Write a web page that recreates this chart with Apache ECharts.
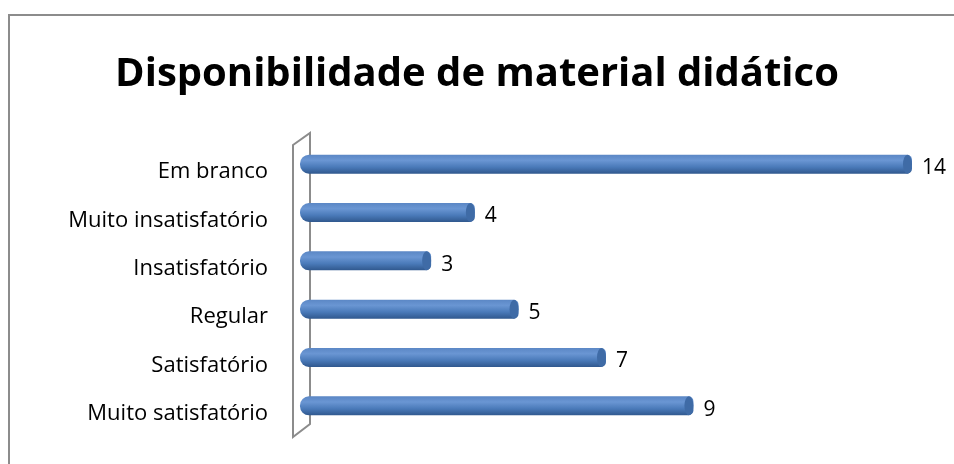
<!DOCTYPE html>
<html>
<head>
<meta charset="utf-8">
<script src="https://cdn.jsdelivr.net/npm/echarts@6/dist/echarts.min.js"></script>
<style>
  html, body { margin: 0; padding: 0; background: #fff; }
  #chart { width: 954px; height: 464px; }
</style>
</head>
<body>
<div id="chart"></div>
<script>
// categories bottom to top, as Excel draws them
const categories = ['Muito satisfatório', 'Satisfatório', 'Regular', 'Insatisfatório', 'Muito insatisfatório', 'Em branco']
const counts = [9, 7, 5, 3, 4, 14]
const titleText = 'Disponibilidade de material didático'

const chart = echarts.init(document.getElementById('chart'))

const cylinder = new echarts.graphic.LinearGradient(0, 0, 0, 1, [
  { offset: 0, color: '#5b87c5' },
  { offset: 0.3, color: '#6a96d3' },
  { offset: 0.65, color: '#4a7ab9' },
  { offset: 1, color: '#30588e' }
])

const option = {
  animation: false,
  backgroundColor: '#fff',
  title: {
    text: titleText,
    left: 'center',
    top: 50,
    textStyle: {
      fontFamily: 'Open Sans',
      fontWeight: 'bold',
      fontSize: 40,
      color: '#000'
    }
  },
  grid: {
    left: 300,
    right: 42,
    top: 140,
    bottom: 34
  },
  xAxis: {
    type: 'value',
    min: 0,
    max: 14,
    show: false
  },
  yAxis: {
    type: 'category',
    data: categories,
    axisLine: { show: false },
    axisTick: { show: false },
    axisLabel: {
      margin: 32,
      verticalAlign: 'top',
      lineHeight: 16,
      fontFamily: 'Open Sans',
      fontSize: 22,
      color: '#000'
    }
  },
  series: [
    {
      // cylinder body
      type: 'bar',
      data: counts,
      barWidth: 19,
      itemStyle: {
        color: cylinder,
        borderRadius: [9, 5, 5, 9]
      },
      label: {
        show: true,
        position: 'right',
        distance: 10,
        verticalAlign: 'top',
        lineHeight: 8,
        fontFamily: 'Open Sans',
        fontSize: 21,
        color: '#000'
      },
      z: 2
    },
    {
      // darker elliptical end cap
      type: 'pictorialBar',
      data: counts,
      symbol: 'circle',
      symbolSize: [9, 19],
      symbolPosition: 'end',
      symbolOffset: [0, 0],
      itemStyle: { color: '#3f6ba6' },
      z: 3
    }
  ],
  graphic: [
    {
      // chart area border (right and bottom fall outside the picture)
      type: 'rect',
      shape: { x: 9, y: 15, width: 1000, height: 500 },
      style: { fill: 'none', stroke: '#8c8c8c', lineWidth: 2 },
      silent: true
    },
    {
      // 3D side wall of the category axis
      type: 'polygon',
      shape: { points: [[293, 145], [310, 133], [310, 424], [293, 437]] },
      style: { fill: 'none', stroke: '#8c8c8c', lineWidth: 2 },
      silent: true,
      z: 1
    }
  ]
}

chart.setOption(option)
</script>
</body>
</html>
